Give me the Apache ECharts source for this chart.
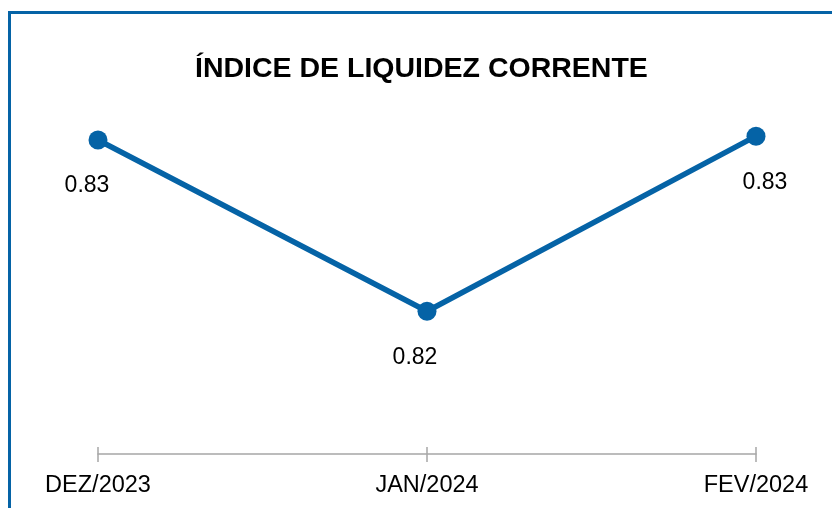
<!DOCTYPE html>
<html>
<head>
<meta charset="utf-8">
<script src="https://cdn.jsdelivr.net/npm/echarts@6/dist/echarts.min.js"></script>
<style>html,body{margin:0;padding:0;background:#fff}#c{width:832px;height:508px}</style>
</head>
<body>
<div id="c"></div>
<script>
const categories = ['DEZ/2023', 'JAN/2024', 'FEV/2024'];
const values = [0.8290, 0.8200, 0.8292];
const labelOffsets = [[-11, 0], [-12, 0], [9, 0]];
const titleText = 'ÍNDICE DE LIQUIDEZ CORRENTE';

const blue = '#0563a6';
const chart = echarts.init(document.getElementById('c'));
chart.setOption({
  backgroundColor: '#fff',
  animation: false,
  title: {
    text: titleText,
    left: 190,
    top: 50,
    textStyle: { fontFamily: 'Liberation Sans', fontWeight: 'bold', fontSize: 28.5, color: '#000' }
  },
  graphic: [{
    type: 'rect',
    shape: { x: 9.5, y: 12.5, width: 900, height: 600 },
    style: { fill: 'none', stroke: blue, lineWidth: 3 },
    silent: true
  }],
  grid: { left: 98, right: 76, top: 100, bottom: 54 },
  xAxis: [{
    type: 'category',
    data: categories,
    boundaryGap: false,
    position: 'bottom',
    axisLine: { lineStyle: { color: '#a6a6a6', width: 1.5 } },
    axisTick: { alignWithLabel: true, length: 8, inside: false, lineStyle: { color: '#a6a6a6', width: 1.5 } },
    axisLabel: { color: '#000', fontFamily: 'Liberation Sans', fontSize: 23.5, margin: 20 }
  }, {
    type: 'category',
    data: categories,
    boundaryGap: false,
    position: 'bottom',
    axisLine: { show: false },
    axisTick: { inside: true, length: 7, lineStyle: { color: '#a6a6a6', width: 1.5 } },
    axisLabel: { show: false }
  }],
  yAxis: { type: 'value', min: 0.8125, max: 0.8311, show: false, splitLine: { show: false } },
  series: [{
    type: 'line',
    data: values.map((v, i) => ({ value: v, label: { offset: labelOffsets[i] } })),
    symbol: 'circle',
    symbolSize: 19,
    lineStyle: { color: blue, width: 5.5 },
    itemStyle: { color: blue },
    label: {
      show: true,
      position: 'bottom',
      distance: 25,
      formatter: p => p.value.toFixed(2),
      fontFamily: 'Liberation Sans',
      fontSize: 23,
      color: '#000'
    }
  }]
});
</script>
</body>
</html>
